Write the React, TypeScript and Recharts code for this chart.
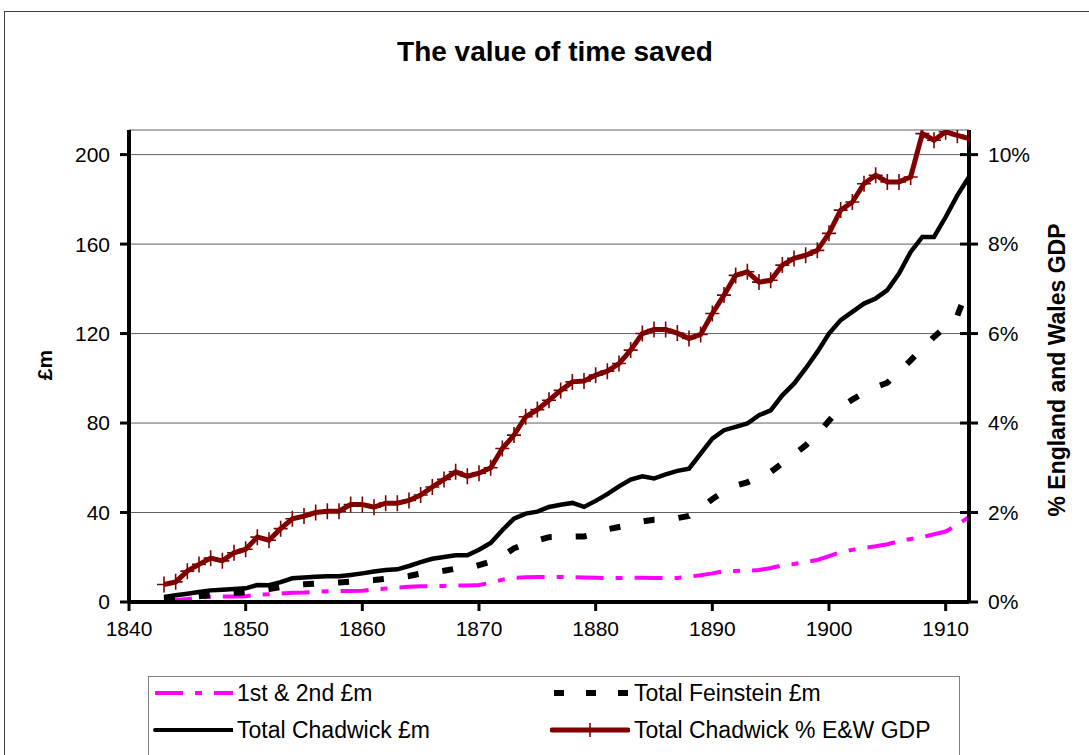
import React from 'react';
import { LineChart, Line, XAxis, YAxis, CartesianGrid } from 'recharts';

const years = [
  1843, 1844, 1845, 1846, 1847, 1848, 1849,
  1850, 1851, 1852, 1853, 1854, 1855, 1856, 1857, 1858, 1859,
  1860, 1861, 1862, 1863, 1864, 1865, 1866, 1867, 1868, 1869,
  1870, 1871, 1872, 1873, 1874, 1875, 1876, 1877, 1878, 1879,
  1880, 1881, 1882, 1883, 1884, 1885, 1886, 1887, 1888, 1889,
  1890, 1891, 1892, 1893, 1894, 1895, 1896, 1897, 1898, 1899,
  1900, 1901, 1902, 1903, 1904, 1905, 1906, 1907, 1908, 1909,
  1910, 1911, 1912,
];

// 1st & 2nd £m
const firstSecond = [
  0.5, 0.9, 1.3, 2.0, 2.4, 2.5, 2.5,
  2.6, 3.2, 3.5, 3.8, 4.1, 4.2, 4.6, 4.8, 4.9, 4.9,
  5.0, 5.6, 6.0, 6.4, 6.8, 7.0, 7.1, 7.2, 7.3, 7.4,
  7.6, 8.6, 10.0, 10.8, 11.1, 11.2, 11.2, 11.2, 11.1, 11.0,
  10.8, 10.7, 10.7, 10.9, 10.8, 10.7, 10.7, 10.7, 11.3, 12.0,
  12.8, 13.8, 13.9, 14.0, 14.3, 15.2, 16.4, 17.0, 17.8, 18.8,
  20.5, 22.3, 23.3, 24.2, 24.9, 25.8, 27.2, 28.2, 29.0, 30.3,
  31.5, 34.5, 38.0,
];

// Total Feinstein £m
const feinstein = [
  1.0, 1.5, 2.0, 2.6, 3.0, 3.4, 4.0,
  4.4, 5.0, 5.8, 6.7, 7.5, 7.9, 8.2, 8.5, 8.7, 9.1,
  9.4, 9.8, 10.4, 10.9, 11.6, 12.7, 13.4, 14.0, 14.9, 15.0,
  16.5, 18.0, 20.5, 24.0, 26.0, 27.5, 29.0, 29.2, 29.2, 29.3,
  30.5, 32.5, 33.5, 34.5, 36.0, 36.8, 37.0, 37.5, 38.5, 42.0,
  46.0, 49.5, 52.0, 53.5, 56.0, 58.1, 62.0, 66.0, 70.0, 75.0,
  81.0, 87.0, 90.5, 93.5, 96.0, 98.0, 103.0, 108.0, 113.5, 118.5,
  123.0, 128.0, 141.5,
];

// Total Chadwick £m
const chadwick = [
  2.2, 3.0, 3.7, 4.5, 5.2, 5.5, 5.8,
  6.1, 7.6, 7.5, 8.9, 10.6, 11.0, 11.3, 11.5, 11.5, 12.1,
  12.8, 13.6, 14.3, 14.6, 16.1, 17.8, 19.3, 20.1, 20.9, 20.9,
  23.4, 26.4, 32.1, 37.3, 39.5, 40.4, 42.5, 43.5, 44.3, 42.5,
  45.2, 48.2, 51.7, 54.7, 56.2, 55.2, 57.1, 58.6, 59.6, 66.3,
  73.0, 76.8, 78.3, 79.8, 83.5, 85.7, 92.4, 97.6, 104.4, 111.8,
  120.0, 126.0, 129.7, 133.4, 135.7, 139.4, 146.8, 156.5, 163.2, 163.2,
  172.1, 181.8, 190.0,
];

// Total Chadwick % E&W GDP
const chadwickPct = [
  0.39, 0.45, 0.69, 0.84, 0.98, 0.92, 1.10,
  1.18, 1.45, 1.38, 1.64, 1.86, 1.92, 2.00, 2.03, 2.03, 2.18,
  2.18, 2.12, 2.21, 2.21, 2.27, 2.39, 2.57, 2.74, 2.91, 2.81,
  2.88, 3.00, 3.43, 3.73, 4.14, 4.30, 4.51, 4.73, 4.92, 4.94,
  5.07, 5.16, 5.33, 5.63, 6.00, 6.09, 6.09, 6.01, 5.89, 5.98,
  6.45, 6.86, 7.30, 7.38, 7.15, 7.19, 7.53, 7.68, 7.75, 7.86,
  8.24, 8.76, 8.94, 9.35, 9.54, 9.39, 9.39, 9.50, 10.47, 10.32,
  10.51, 10.43, 10.36,
];

const xTicks = [1840, 1850, 1860, 1870, 1880, 1890, 1900, 1910];
const leftTicks = [0, 40, 80, 120, 160, 200];
const rightTicks = [0, 2, 4, 6, 8, 10];

const data = years.map((year, i) => ({
  year,
  firstSecond: firstSecond[i],
  feinstein: feinstein[i],
  chadwick: chadwick[i],
  chadwickPct: chadwickPct[i],
}));

const FONT = '"Liberation Sans", Arial, sans-serif';
const RED = '#800000';
const MAGENTA = '#FF00FF';

const RightTick = (props: any) => {
  const { x, y, payload } = props;
  return (
    <g>
      <line x1={x - 28} x2={x - 10} y1={y} y2={y} stroke="#000" strokeWidth={3} />
      <text x={x} y={y} dy="0.35em" fontSize={21} fontFamily={FONT} fill="#000">
        {payload.value}%
      </text>
    </g>
  );
};

const PlusDot = (props: any) => {
  const { cx, cy, index } = props;
  if (cx == null || cy == null) return <g key={index} />;
  return (
    <path
      key={index}
      d={`M${cx - 7},${cy}H${cx + 7}M${cx},${cy - 8}V${cy + 8}`}
      stroke={RED}
      strokeWidth={1.6}
      fill="none"
    />
  );
};

function LegendSwatch({ kind }: { kind: string }) {
  return (
    <svg width={80} height={14} style={{ display: 'block' }}>
      {kind === 'magenta' && (
        <line x1={2} x2={80} y1={7} y2={7} stroke={MAGENTA} strokeWidth={4} strokeDasharray="28 12 7 12" />
      )}
      {kind === 'dash' && (
        <line x1={4} x2={80} y1={7} y2={7} stroke="#000" strokeWidth={6} strokeDasharray="10 22" />
      )}
      {kind === 'solid' && (
        <line x1={2} x2={80} y1={7} y2={7} stroke="#000" strokeWidth={4} strokeLinecap="round" />
      )}
      {kind === 'red' && (
        <g>
          <line x1={2} x2={78} y1={7} y2={7} stroke={RED} strokeWidth={5} strokeLinecap="round" />
          <line x1={40} x2={40} y1={0} y2={14} stroke={RED} strokeWidth={1.6} />
        </g>
      )}
    </svg>
  );
}

function LegendItem({ kind, label, left, top }: { kind: string; label: string; left: number; top: number }) {
  return (
    <div style={{ position: 'absolute', left, top, display: 'flex', alignItems: 'center', height: 26 }}>
      <LegendSwatch kind={kind} />
      <span style={{ marginLeft: 4, fontSize: 23, fontFamily: FONT, whiteSpace: 'nowrap' }}>{label}</span>
    </div>
  );
}

export default function App() {
  return (
    <div
      style={{
        position: 'absolute',
        left: 0,
        top: 0,
        width: 1089,
        height: 755,
        overflow: 'hidden',
        background: '#fff',
        fontFamily: FONT,
      }}
    >
      <div
        style={{
          position: 'absolute',
          left: 4,
          top: 11,
          width: 1200,
          height: 900,
          border: '1.5px solid #404040',
        }}
      />
      <div
        style={{
          position: 'absolute',
          left: 305,
          top: 36,
          width: 500,
          textAlign: 'center',
          fontSize: 28,
          fontWeight: 'bold',
        }}
      >
        The value of time saved
      </div>

      <div style={{ position: 'absolute', left: 0, top: 0 }}>
        <LineChart
          width={1089}
          height={755}
          data={data}
          margin={{ top: 130, right: 60, bottom: 113, left: 60 }}
        >
          <CartesianGrid horizontal vertical={false} stroke="#606060" strokeWidth={1} yAxisId="left" />
          <XAxis
            dataKey="year"
            type="number"
            domain={[1840, 1912]}
            ticks={xTicks}
            allowDataOverflow
            height={40}
            axisLine={{ stroke: '#000', strokeWidth: 4 }}
            tickLine={{ stroke: '#000', strokeWidth: 3 }}
            tickSize={9}
            tickMargin={10}
            tick={{ fill: '#000', fontSize: 21, fontFamily: FONT }}
          />
          <YAxis
            yAxisId="left"
            orientation="left"
            width={69}
            domain={[0, 211]}
            ticks={leftTicks}
            allowDataOverflow
            axisLine={{ stroke: '#000', strokeWidth: 4 }}
            tickLine={{ stroke: '#000', strokeWidth: 3 }}
            tickSize={9}
            tickMargin={10}
            tick={{ fill: '#000', fontSize: 21, fontFamily: FONT }}
            label={{
              content: () => (
                <text
                  x={45}
                  y={365}
                  transform="rotate(-90 45 365)"
                  textAnchor="middle"
                  dy="0.35em"
                  fontSize={21}
                  fontWeight="bold"
                  fontFamily={FONT}
                  fill="#000"
                >
                  £m
                </text>
              ),
            }}
          />
          <YAxis
            yAxisId="right"
            orientation="right"
            width={60}
            domain={[0, 10.55]}
            ticks={rightTicks}
            allowDataOverflow
            axisLine={{ stroke: '#000', strokeWidth: 4 }}
            tickLine={false}
            tickSize={9}
            tickMargin={10}
            tick={<RightTick />}
            label={{
              content: () => (
                <text
                  x={1057}
                  y={370}
                  transform="rotate(-90 1057 370)"
                  textAnchor="middle"
                  dy="0.35em"
                  fontSize={23}
                  fontWeight="bold"
                  fontFamily={FONT}
                  fill="#000"
                >
                  % England and Wales GDP
                </text>
              ),
            }}
          />
          <Line
            yAxisId="left"
            dataKey="firstSecond"
            type="linear"
            stroke={MAGENTA}
            strokeWidth={4}
            strokeDasharray="28 12 7 12"
            dot={false}
            isAnimationActive={false}
          />
          <Line
            yAxisId="left"
            dataKey="feinstein"
            type="linear"
            stroke="#000"
            strokeWidth={6}
            strokeDasharray="11 24"
            dot={false}
            isAnimationActive={false}
          />
          <Line
            yAxisId="left"
            dataKey="chadwick"
            type="linear"
            stroke="#000"
            strokeWidth={4.5}
            dot={false}
            isAnimationActive={false}
          />
          <Line
            yAxisId="right"
            dataKey="chadwickPct"
            type="linear"
            stroke={RED}
            strokeWidth={5}
            dot={<PlusDot />}
            isAnimationActive={false}
          />
        </LineChart>
      </div>

      <div
        style={{
          position: 'absolute',
          left: 148,
          top: 676,
          width: 810,
          height: 120,
          border: '1px solid #808080',
          background: '#fff',
        }}
      />
      <LegendItem kind="magenta" label="1st & 2nd £m" left={153} top={680} />
      <LegendItem kind="dash" label="Total Feinstein £m" left={550} top={680} />
      <LegendItem kind="solid" label="Total Chadwick £m" left={153} top={717} />
      <LegendItem kind="red" label="Total Chadwick % E&W GDP" left={550} top={717} />
    </div>
  );
}
